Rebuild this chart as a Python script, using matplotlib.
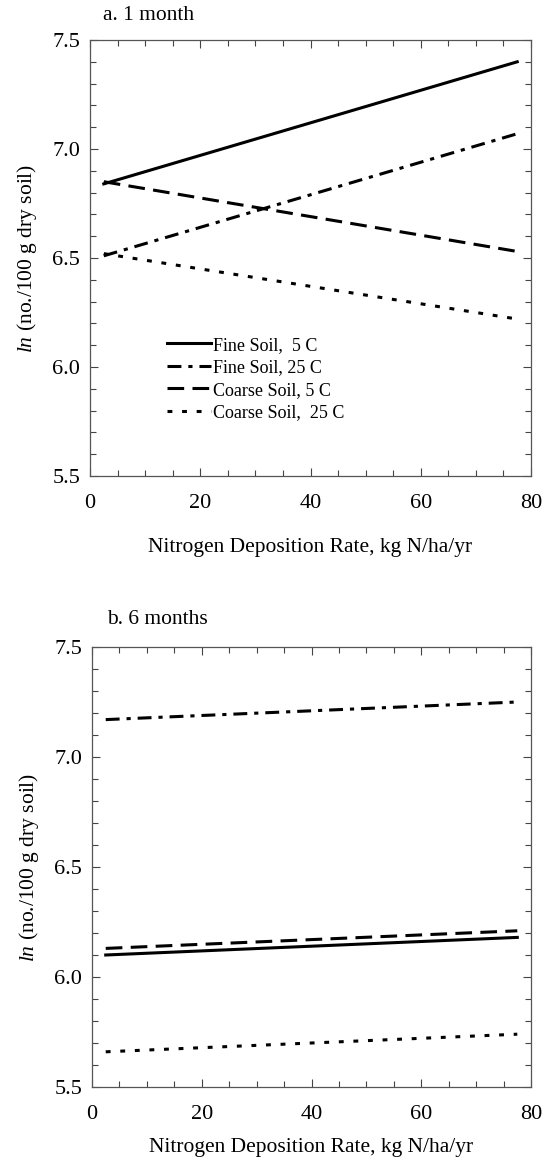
import matplotlib
matplotlib.use('Agg')
import matplotlib.pyplot as plt
from matplotlib.ticker import MultipleLocator

plt.rcParams['font.family'] = ['Liberation Serif', 'DejaVu Serif']
plt.rcParams['mathtext.fontset'] = 'custom'
plt.rcParams['mathtext.rm'] = 'Liberation Serif'
plt.rcParams['mathtext.it'] = 'Liberation Serif:italic'
plt.rcParams['lines.scale_dashes'] = False

# end points of the fitted lines (deposition rate, ln count)
n_rate = [2.5, 77.5]

labels = ['Fine Soil,  5 C', 'Fine Soil, 25 C', 'Coarse Soil, 5 C', 'Coarse Soil,  25 C']

month1_fine_5 = [6.84, 7.40]
month1_fine_25 = [6.51, 7.07]
month1_coarse_5 = [6.85, 6.53]
month1_coarse_25 = [6.52, 6.22]

month6_fine_5 = [6.10, 6.18]
month6_fine_25 = [7.17, 7.25]
month6_coarse_5 = [6.13, 6.21]
month6_coarse_25 = [5.66, 5.74]

styles = ['-', (0, (10, 5, 3, 5)), (0, (12, 6)), (0, (3.5, 7))]

W, H = 549, 1164
fig = plt.figure(figsize=(W / 100, H / 100), dpi=100)


def make_axes(left, right, top, bottom):
    ax = fig.add_axes([left / W, 1 - bottom / H, (right - left) / W, (bottom - top) / H])
    ax.set_xlim(0, 80)
    ax.set_ylim(5.5, 7.5)
    ax.xaxis.set_major_locator(MultipleLocator(20))
    ax.xaxis.set_minor_locator(MultipleLocator(5))
    ax.yaxis.set_major_locator(MultipleLocator(0.5))
    ax.yaxis.set_minor_locator(MultipleLocator(0.1))
    ax.yaxis.set_major_formatter(matplotlib.ticker.FormatStrFormatter('%.1f'))
    ax.tick_params(which='both', direction='in', top=True, right=True, color='#444444', width=0.8)
    ax.tick_params(which='major', length=6, labelsize=16)
    ax.tick_params(axis='y', which='major', pad=7)
    ax.tick_params(axis='x', which='major', pad=13)
    ax.tick_params(which='minor', length=4)
    for s in ax.spines.values():
        s.set_color('#555555')
        s.set_linewidth(0.9)
    return ax


ax1 = make_axes(90, 531, 40, 476)
for vals, ls, lab in zip([month1_fine_5, month1_fine_25, month1_coarse_5, month1_coarse_25], styles, labels):
    ax1.plot(n_rate, vals, color='black', linestyle=ls, linewidth=2.2, label=lab)
ax1.set_xlabel('Nitrogen Deposition Rate, kg N/ha/yr', fontsize=15.5, labelpad=18)
ax1.set_ylabel(r'$\it{ln}$ (no./100 g dry soil)', fontsize=15.5, labelpad=10)
leg = ax1.legend(loc='upper left', bbox_to_anchor=(0.155, 0.34), frameon=False, fontsize=13,
                 handlelength=2.4, handletextpad=0.1, labelspacing=0.3, borderpad=0)
fig.text(103 / W, 1 - 16 / H, 'a. 1 month', fontsize=15.5, va='center', ha='left')

ax2 = make_axes(92, 531, 647, 1087)
for vals, ls in zip([month6_fine_5, month6_fine_25, month6_coarse_5, month6_coarse_25], styles):
    ax2.plot(n_rate, vals, color='black', linestyle=ls, linewidth=2.2)
ax2.set_xlabel('Nitrogen Deposition Rate, kg N/ha/yr', fontsize=15.5, labelpad=10)
ax2.set_ylabel(r'$\it{ln}$ (no./100 g dry soil)', fontsize=15.5, labelpad=10)
fig.text(107 / W, 1 - 620 / H, 'b. 6 months', fontsize=15.5, va='center', ha='left')

fig.savefig('out.png', dpi=100)
